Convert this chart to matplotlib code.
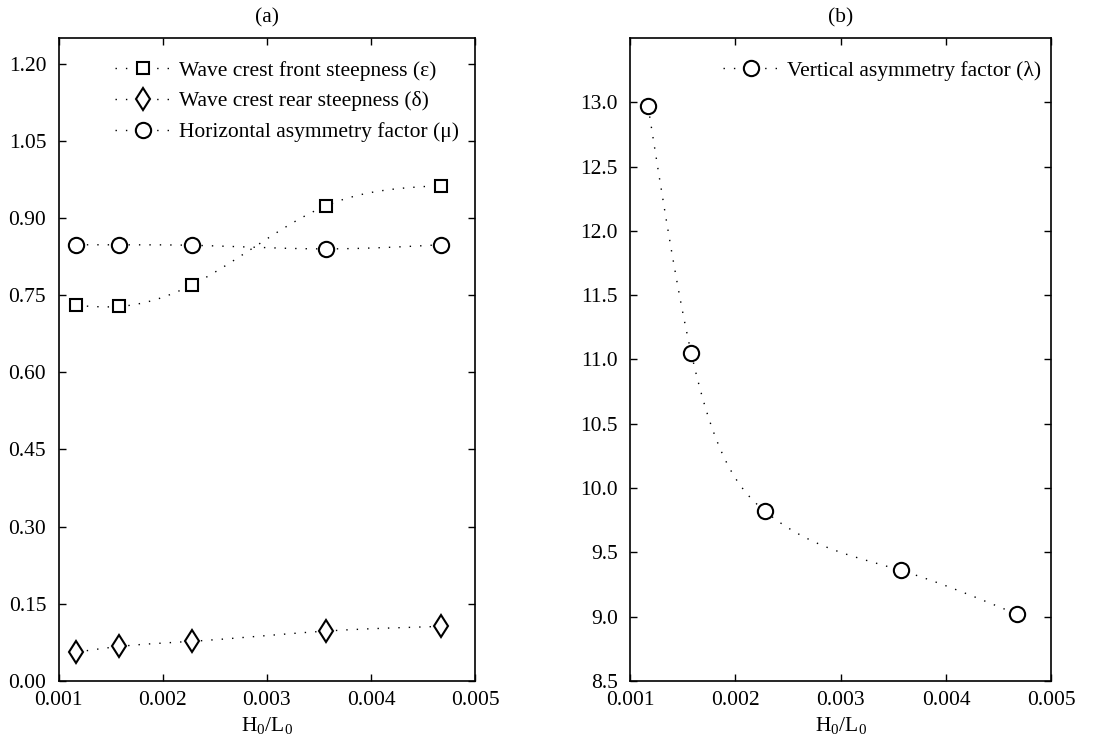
import numpy as np
import matplotlib
matplotlib.use('Agg')
import matplotlib.pyplot as plt
from matplotlib.lines import Line2D

plt.rcParams['font.family'] = ['Liberation Serif', 'DejaVu Serif']
plt.rcParams['mathtext.fontset'] = 'custom'
plt.rcParams['mathtext.rm'] = 'Liberation Serif'
plt.rcParams['mathtext.it'] = 'Liberation Serif'
plt.rcParams['mathtext.default'] = 'rm'

# wave steepness H0/L0
h0_l0 = [0.00117, 0.00158, 0.00228, 0.00357, 0.00467]
eps = [0.730, 0.728, 0.770, 0.924, 0.963]    # front steepness
delta = [0.056, 0.067, 0.077, 0.097, 0.106]  # rear steepness
mu = [0.848, 0.848, 0.847, 0.840, 0.848]     # horizontal asymmetry
lam = [12.97, 11.05, 9.82, 9.36, 9.02]       # vertical asymmetry

labels_a = ["Wave crest front steepness (\u03b5)",
            "Wave crest rear steepness (\u03b4)",
            "Horizontal asymmetry factor (\u03bc)"]
label_b = "Vertical asymmetry factor (\u03bb)"


def csplines(x, y, n=200):
    # natural cubic spline, like gnuplot "smooth csplines"
    x = np.asarray(x, float)
    y = np.asarray(y, float)
    k = len(x)
    h = np.diff(x)
    A = np.zeros((k, k))
    b = np.zeros(k)
    A[0, 0] = A[-1, -1] = 1
    for i in range(1, k - 1):
        A[i, i - 1] = h[i - 1]
        A[i, i] = 2 * (h[i - 1] + h[i])
        A[i, i + 1] = h[i]
        b[i] = 6 * ((y[i + 1] - y[i]) / h[i] - (y[i] - y[i - 1]) / h[i - 1])
    m = np.linalg.solve(A, b)
    xs = np.linspace(x[0], x[-1], n)
    j = np.clip(np.searchsorted(x, xs) - 1, 0, k - 2)
    t = xs - x[j]
    hj = h[j]
    ys = (m[j] * (x[j + 1] - xs) ** 3 / (6 * hj) + m[j + 1] * t ** 3 / (6 * hj)
          + (y[j] / hj - m[j] * hj / 6) * (x[j + 1] - xs)
          + (y[j + 1] / hj - m[j + 1] * hj / 6) * t)
    return xs, ys


dots = (0, (1, 6.5))
fs = 15.5

fig = plt.figure(figsize=(10.94, 7.45), dpi=100)
ax1 = fig.add_axes([0.0537, 0.086, 0.3806, 0.863])
ax2 = fig.add_axes([0.576, 0.086, 0.385, 0.863])

styles = [('s', 9.3), ('d', 11.5), ('o', 11)]
handles = []
for vals, (mk, ms), lab in zip([eps, delta, mu], styles, labels_a):
    xs, ys = csplines(h0_l0, vals)
    ax1.plot(xs, ys, color='black', lw=1, ls=dots)
    ax1.plot(h0_l0, vals, ls='none', marker=mk, ms=ms, mfc='white',
             mec='black', mew=1.5)
    handles.append(Line2D([], [], color='black', lw=1, ls=dots, marker=mk,
                          ms=ms, mfc='white', mec='black', mew=1.5, label=lab))

xs, ys = csplines(h0_l0, lam)
ax2.plot(xs, ys, color='black', lw=1, ls=dots)
ax2.plot(h0_l0, lam, ls='none', marker='o', ms=11, mfc='white',
         mec='black', mew=1.5)
hb = Line2D([], [], color='black', lw=1, ls=dots, marker='o', ms=11,
            mfc='white', mec='black', mew=1.5, label=label_b)

ax1.set_ylim(0, 1.25)
ax1.set_yticks(np.arange(0, 1.21, 0.15))
ax1.set_yticklabels(["%.2f" % v for v in np.arange(0, 1.21, 0.15)])
ax2.set_ylim(8.5, 13.5)
ax2.set_yticks(np.arange(8.5, 13.01, 0.5))
ax2.set_yticklabels(["%.1f" % v for v in np.arange(8.5, 13.01, 0.5)])

for ax, title in [(ax1, '(a)'), (ax2, '(b)')]:
    ax.set_xlim(0.001, 0.005)
    ax.set_xticks([0.001, 0.002, 0.003, 0.004, 0.005])
    ax.set_xticklabels(['0.001', '0.002', '0.003', '0.004', '0.005'])
    ax.tick_params(axis='both', direction='in', top=True, right=True,
                   length=5, width=1, labelsize=fs)
    ax.tick_params(axis='x', pad=7.5)
    ax.tick_params(axis='y', pad=9)
    for sp in ax.spines.values():
        sp.set_linewidth(1.2)
    ax.set_xlabel('H$_0$/L$_0$', fontsize=fs, labelpad=3)
    ax.set_title(title, fontsize=fs, pad=11)

ax1.legend(handles=handles, loc='upper right', bbox_to_anchor=(1.0, 0.99),
           frameon=False, fontsize=fs, handlelength=2.6, handletextpad=0.35,
           borderaxespad=0.35, labelspacing=0.5)
ax2.legend(handles=[hb], loc='upper right', bbox_to_anchor=(1.014, 0.99),
           frameon=False, fontsize=fs, handlelength=2.6, handletextpad=0.35,
           borderaxespad=0.35)

fig.savefig('out.png', dpi=100)
